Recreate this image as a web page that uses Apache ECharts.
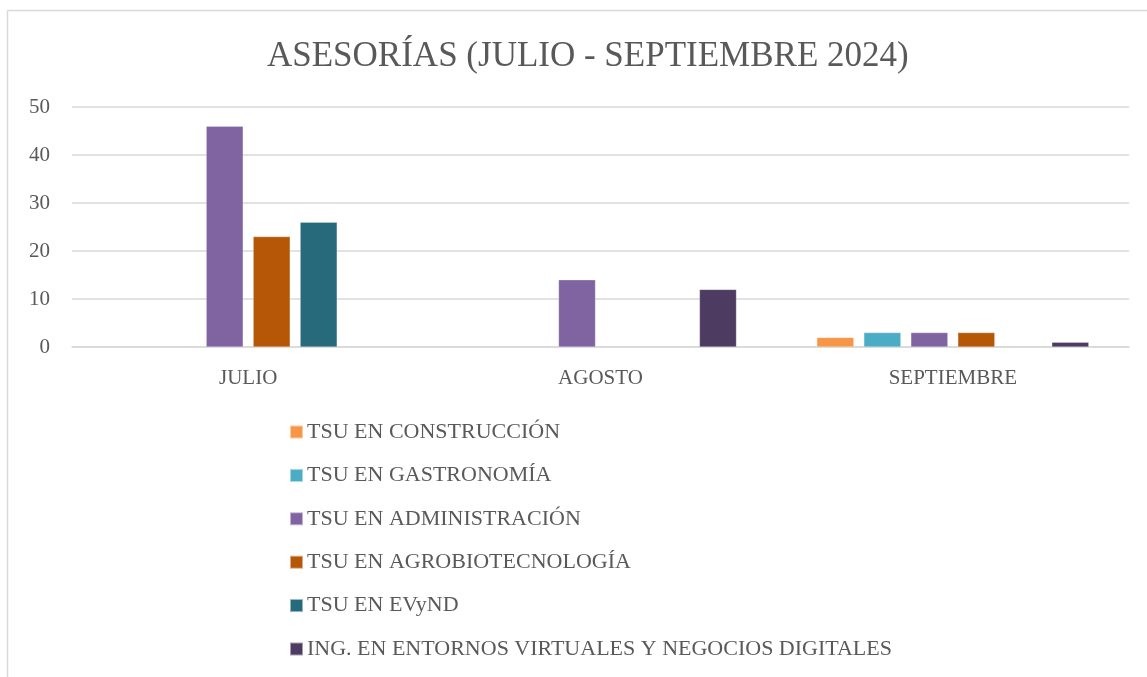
<!DOCTYPE html>
<html>
<head>
<meta charset="utf-8">
<script src="https://cdn.jsdelivr.net/npm/echarts@6/dist/echarts.min.js"></script>
<style>
  html, body { margin: 0; padding: 0; background: #fff; }
  #chart { width: 1147px; height: 677px; }
</style>
</head>
<body>
<div id="chart"></div>
<script>
const categories = ['JULIO', 'AGOSTO', 'SEPTIEMBRE']
const seriesNames = [
  'TSU EN CONSTRUCCIÓN',
  'TSU EN GASTRONOMÍA',
  'TSU EN ADMINISTRACIÓN',
  'TSU EN AGROBIOTECNOLOGÍA',
  'TSU EN EVyND',
  'ING. EN ENTORNOS VIRTUALES Y NEGOCIOS DIGITALES'
]
const construccion = [null, null, 2]
const gastronomia = [null, null, 3]
const administracion = [46, 14, 3]
const agrobiotecnologia = [23, null, 3]
const evynd = [26, null, null]
const ingenieria = [null, 12, 1]
const colors = ['#F79646', '#4BACC6', '#8064A2', '#B65708', '#276A7C', '#4D3B62']

const seriesData = [construccion, gastronomia, administracion, agrobiotecnologia, evynd, ingenieria]
const textColor = '#595959'
const font = "'Liberation Serif', 'DejaVu Serif', serif"

const myChart = echarts.init(document.getElementById('chart'))
const option = {
  backgroundColor: '#fff',
  animation: false,
  textStyle: { fontFamily: font },
  title: {
    text: 'ASESORÍAS (JULIO - SEPTIEMBRE 2024)',
    left: 262,
    top: 34,
    textStyle: { fontFamily: font, fontSize: 35, fontWeight: 'normal', color: textColor }
  },
  graphic: [
    { type: 'line', shape: { x1: 7.5, y1: 10.5, x2: 1147, y2: 10.5 }, style: { stroke: '#D9D9D9', lineWidth: 1.5 } },
    { type: 'line', shape: { x1: 7.5, y1: 10.5, x2: 7.5, y2: 677 }, style: { stroke: '#D9D9D9', lineWidth: 1.5 } }
  ],
  legend: {
    orient: 'vertical',
    left: 284,
    top: 416,
    itemWidth: 13,
    itemHeight: 13,
    itemGap: 21.4,
    icon: 'rect',
    textStyle: { fontFamily: font, fontSize: 22, color: textColor, padding: [0, 0, 0, -1] },
    data: seriesNames
  },
  grid: { left: 72, right: 18, top: 107, bottom: 330 },
  xAxis: {
    type: 'category',
    data: categories,
    axisTick: { show: false },
    axisLine: { lineStyle: { color: '#D9D9D9', width: 1.5 } },
    axisLabel: { color: textColor, fontSize: 21, margin: 21, fontFamily: font }
  },
  yAxis: {
    type: 'value',
    min: 0,
    max: 50,
    interval: 10,
    axisLine: { show: false },
    axisTick: { show: false },
    axisLabel: { color: textColor, fontSize: 21, margin: 22, fontFamily: font },
    splitLine: { lineStyle: { color: '#D9D9D9', width: 1.5 } }
  },
  series: seriesNames.map((name, i) => ({
    name: name,
    type: 'bar',
    data: seriesData[i],
    barWidth: 37,
    barGap: '27%',
    itemStyle: { color: colors[i], borderColor: 'rgba(255,255,255,0.5)', borderWidth: 0.5 }
  }))
}
myChart.setOption(option)
</script>
</body>
</html>
